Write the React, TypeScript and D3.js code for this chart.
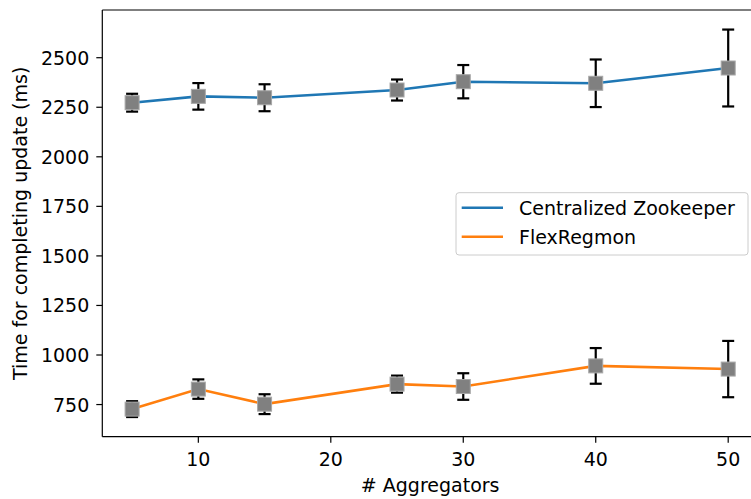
import React from "react";
import * as d3 from "d3";

const aggregators = [5, 10, 15, 25, 30, 40, 50];
const zookeeperMean = [2273, 2305, 2298, 2337, 2379, 2371, 2448];
const zookeeperErr = [45, 67, 68, 53, 84, 120, 194];
const flexMean = [727, 828, 752, 853, 841, 945, 929];
const flexErr = [40, 49, 50, 43, 67, 90, 142];
const xTicks = [10, 20, 30, 40, 50];
const yTicks = [750, 1000, 1250, 1500, 1750, 2000, 2250, 2500];
const seriesNames = ["Centralized Zookeeper", "FlexRegmon"];
const seriesColors = ["#1f77b4", "#ff7f0e"];

const W = 751;
const H = 499;
const left = 102.3;
const right = 758;
const top = 10;
const bottom = 436.7;
const font = "'DejaVu Sans', sans-serif";
const fs = 19;

export default function App() {
  const x = d3.scaleLinear().domain([2.75, 52.25]).range([left, right]);
  const y = d3.scaleLinear().domain([587.8, 2740.7]).range([bottom, top]);
  const line = d3
    .line<[number, number]>()
    .x((d) => x(d[0]))
    .y((d) => y(d[1]));

  const series = [
    { mean: zookeeperMean, err: zookeeperErr },
    { mean: flexMean, err: flexErr },
  ];
  const ms = 14;
  const cap = 6;

  return (
    <svg
      width={W}
      height={H}
      style={{ position: "absolute", left: 0, top: 0, background: "#fff" }}
      fontFamily={font}
    >
      <rect x={0} y={0} width={W} height={H} fill="#fff" />
      {series.map((s, si) => (
        <path
          key={"l" + si}
          d={line(aggregators.map((a, i) => [a, s.mean[i]]))!}
          fill="none"
          stroke={seriesColors[si]}
          strokeWidth={2.6}
        />
      ))}
      {series.map((s, si) =>
        aggregators.map((a, i) => {
          const cx = x(a);
          const y1 = y(s.mean[i] + s.err[i]);
          const y2 = y(s.mean[i] - s.err[i]);
          return (
            <g key={"e" + si + "-" + i}>
              <line x1={cx} x2={cx} y1={y1} y2={y2} stroke="#000" strokeWidth={2.2} />
              <line x1={cx - cap} x2={cx + cap} y1={y1} y2={y1} stroke="#000" strokeWidth={2.2} />
              <line x1={cx - cap} x2={cx + cap} y1={y2} y2={y2} stroke="#000" strokeWidth={2.2} />
              <rect
                x={cx - ms / 2}
                y={y(s.mean[i]) - ms / 2}
                width={ms}
                height={ms}
                fill="#808080"
                stroke="#a8a8a8"
                strokeWidth={1}
              />
            </g>
          );
        })
      )}
      {/* spines */}
      <line x1={left} x2={left} y1={top} y2={bottom} stroke="#000" strokeWidth={1.2} />
      <line x1={left} x2={W} y1={bottom} y2={bottom} stroke="#000" strokeWidth={1.2} />
      <line x1={left} x2={W} y1={top} y2={top} stroke="#000" strokeWidth={1.2} />
      {/* y ticks */}
      {yTicks.map((t) => (
        <g key={"yt" + t}>
          <line x1={left - 6} x2={left} y1={y(t)} y2={y(t)} stroke="#000" strokeWidth={1.2} />
          <text
            x={left - 13}
            y={y(t)}
            textAnchor="end"
            dominantBaseline="central"
            fontSize={fs}
            fill="#000"
          >
            {t}
          </text>
        </g>
      ))}
      {/* x ticks */}
      {xTicks.map((t) => (
        <g key={"xt" + t}>
          <line x1={x(t)} x2={x(t)} y1={bottom} y2={bottom + 6} stroke="#000" strokeWidth={1.2} />
          <text x={x(t)} y={466} textAnchor="middle" fontSize={fs} fill="#000">
            {t}
          </text>
        </g>
      ))}
      <text x={(left + right) / 2} y={492} textAnchor="middle" fontSize={fs} fill="#000">
        # Aggregators
      </text>
      <text
        transform={`translate(27,${(top + bottom) / 2}) rotate(-90)`}
        textAnchor="middle"
        fontSize={fs}
        fill="#000"
      >
        Time for completing update (ms)
      </text>
      {/* legend */}
      <rect
        x={456}
        y={192.7}
        width={292}
        height={62.3}
        rx={3}
        fill="#fff"
        fillOpacity={0.8}
        stroke="#ccc"
        strokeWidth={1}
      />
      {seriesNames.map((n, i) => (
        <g key={"lg" + i}>
          <line
            x1={461.7}
            x2={503}
            y1={207.7 + i * 29}
            y2={207.7 + i * 29}
            stroke={seriesColors[i]}
            strokeWidth={2.6}
          />
          <text x={519} y={207.7 + i * 29} dominantBaseline="central" fontSize={fs} fill="#000">
            {n}
          </text>
        </g>
      ))}
    </svg>
  );
}
